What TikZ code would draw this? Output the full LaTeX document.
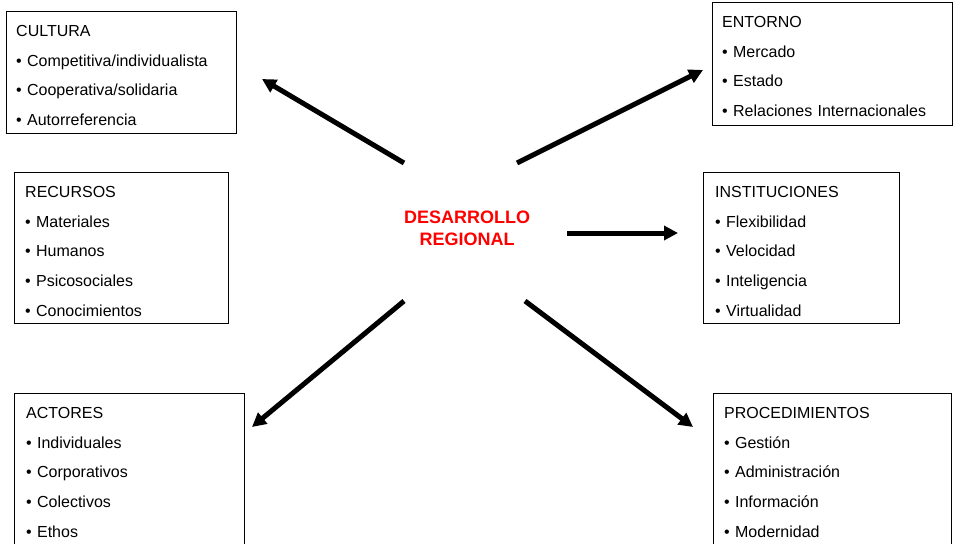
\documentclass[tikz,border=0pt]{standalone}
\usepackage{fontspec}
\setmainfont{Liberation Sans}
\usetikzlibrary{arrows.meta}
\setlength{\parindent}{0pt}

\tikzset{
  caja/.style={draw, line width=0.9pt, rectangle, inner sep=0pt, anchor=north west},
  lista/.style={anchor=north west, inner sep=0pt, text width=225pt, align=left,
    font=\fontsize{16}{29.7}\selectfont},
  centro/.style={inner sep=0pt, text width=150pt, align=center, text=red,
    font=\bfseries\fontsize{18}{22}\selectfont},
  flecha/.style={line width=5pt, -{Triangle[length=14pt,width=14pt]}},
}

\begin{document}
\begin{tikzpicture}[x=1pt, y=-1pt]
\useasboundingbox (0,0) rectangle (957,543);
\clip (0,0) rectangle (957,543);

% cajas
\node[caja, minimum width=230pt, minimum height=122pt] (cultura) at (6,11) {};
\node[caja, minimum width=240pt, minimum height=123pt] (entorno) at (712,2) {};
\node[caja, minimum width=214pt, minimum height=151pt] (recursos) at (14,172) {};
\node[caja, minimum width=196pt, minimum height=151pt] (instit) at (703,172) {};
\node[caja, minimum width=230pt, minimum height=200pt] (actores) at (14,393) {};
\node[caja, minimum width=238pt, minimum height=200pt] (proced) at (713,393) {};

% textos
\node[lista] (culturaT) at ([shift={(10,14.2)}]cultura.north west)
  {CULTURA\\ \textbullet\ Competitiva/individualista\\ \textbullet\ Cooperativa/solidaria\\ \textbullet\ Autorreferencia};
\node[lista] (entornoT) at ([shift={(10,14.2)}]entorno.north west)
  {ENTORNO\\ \textbullet\ Mercado\\ \textbullet\ Estado\\ \textbullet\ Relaciones Internacionales};
\node[lista] (recursosT) at ([shift={(11,14.2)}]recursos.north west)
  {RECURSOS\\ \textbullet\ Materiales\\ \textbullet\ Humanos\\ \textbullet\ Psicosociales\\ \textbullet\ Conocimientos};
\node[lista] (institT) at ([shift={(12,14.2)}]instit.north west)
  {INSTITUCIONES\\ \textbullet\ Flexibilidad\\ \textbullet\ Velocidad\\ \textbullet\ Inteligencia\\ \textbullet\ Virtualidad};
\node[lista] (actoresT) at ([shift={(12,14.2)}]actores.north west)
  {ACTORES\\ \textbullet\ Individuales\\ \textbullet\ Corporativos\\ \textbullet\ Colectivos\\ \textbullet\ Ethos};
\node[lista] (procedT) at ([shift={(11,14.2)}]proced.north west)
  {PROCEDIMIENTOS\\ \textbullet\ Gestión\\ \textbullet\ Administración\\ \textbullet\ Información\\ \textbullet\ Modernidad};

\node[centro] (desarrollo) at (467,228.5) {DESARROLLO\\REGIONAL};

% puntas de flecha
\coordinate (pCultura) at (262,79);
\coordinate (pEntorno) at (703,70);
\coordinate (pInstit) at (678,233);
\coordinate (pActores) at (252,427);
\coordinate (pProced) at (693,427);

\draw[flecha] ([shift={(-63,-65.5)}]desarrollo.center) -- (pCultura);
\draw[flecha] ([shift={(50,-65.5)}]desarrollo.center) -- (pEntorno);
\draw[flecha] ([shift={(100,4.5)}]desarrollo.center) -- (pInstit);
\draw[flecha] ([shift={(-63,72.5)}]desarrollo.center) -- (pActores);
\draw[flecha] ([shift={(58,72.5)}]desarrollo.center) -- (pProced);
\end{tikzpicture}
\end{document}
